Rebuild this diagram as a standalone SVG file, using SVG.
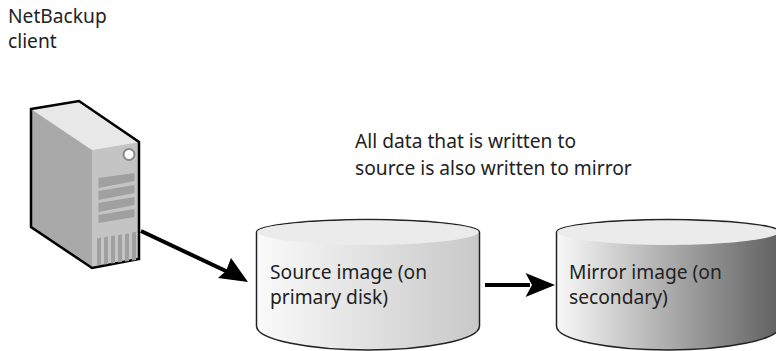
<svg xmlns="http://www.w3.org/2000/svg" width="776" height="351" viewBox="0 0 776 351">
<style>
text{font-family:"Noto Sans","Open Sans",sans-serif;font-size:19.200px;fill:#222}
.c{stroke:#000;stroke-width:4;fill:none}
.d{stroke:#222;stroke-width:1.5}
.top{fill:#ebebeb;stroke:none}
.g{fill:#a0a0a0}
</style>
<defs>
<linearGradient id="g1"><stop offset="0" stop-color="#fafafa"/><stop offset="1" stop-color="#c8c8c8"/></linearGradient>
<linearGradient id="g2"><stop offset="0" stop-color="#f8f8f8"/><stop offset="1" stop-color="#606060"/></linearGradient>
</defs>
<g id="label-client"><text x="8" y="23">NetBackup</text><text x="8" y="48">client</text></g>
<g id="label-note"><text x="355" y="148">All data that is written to</text><text x="355" y="175">source is also written to mirror</text></g>
<g id="server">
<path d="M31 109L79 101L139 142L92 150Z" fill="#e8e8e8"/>
<path d="M31 109L92 150V268L31 227Z" fill="#a9a9a9"/>
<path d="M92 150L139 142V259L92 268Z" fill="#c4c4c4"/>
<path d="M31 109L79 101L139 142V259L92 268L31 227Z" fill="none" stroke="#000" stroke-width="2.500"/>
<circle cx="129" cy="154.500" r="5.500" fill="#fff" stroke="#8a8a8a" stroke-width="2"/>
<path class="g" d="M98.500 178L134.500 173V181L98.500 188ZM98.500 191L134.500 185V193L98.500 200ZM98.500 203L134.500 197V205L98.500 212ZM98.500 215L134.500 209V217L98.500 223Z"/>
<path class="g" d="M97 238.500L101 237.500V265L97 265.500ZM104 237.500L108 236.500V264L104 264.500ZM111 236L115 235.500V263L111 263.500ZM118 235L122 234.500V262L118 262.500ZM125 234L129 233.500V261L125 261.500ZM132 232.500L136 232V260L132 260.500Z"/>
</g>
<g id="source">
<path d="M256.500 232C256.500 225 310 219.500 368 219.500S479.500 225 479.500 232V326C479.500 340 425 350 368 350S256.500 340 256.500 326Z" fill="url(#g1)" class="d"/>
<path class="top" d="M257.500 232C257.500 226 310 220.500 368 220.500S478.500 226 478.500 232C478.500 239 425 245 368 245S257.500 239 257.500 232Z"/>
<text x="270" y="279">Source image (on</text><text x="270" y="304">primary disk)</text>
</g>
<g id="mirror">
<path d="M556.500 232C556.500 225 610 219.500 668 219.500S780 225 780 232V326C780 340 725 350 668 350S556.500 340 556.500 326Z" fill="url(#g2)" class="d"/>
<path class="top" d="M557.500 232C557.500 226 610 220.500 668 220.500S779 226 779 232C779 239 725 245 668 245S557.500 239 557.500 232Z"/>
<text x="569" y="279">Mirror image (on</text><text x="569" y="304">secondary)</text>
</g>
<g id="connectors">
<path class="c" d="M141 231L228 272"/>
<path d="M248 282L218 278L226 271L231 258Z" fill="#000"/>
<path class="c" d="M485 285H530"/>
<path d="M555 285L525.500 273L532 285L525.500 297Z" fill="#000"/>
</g>
</svg>
